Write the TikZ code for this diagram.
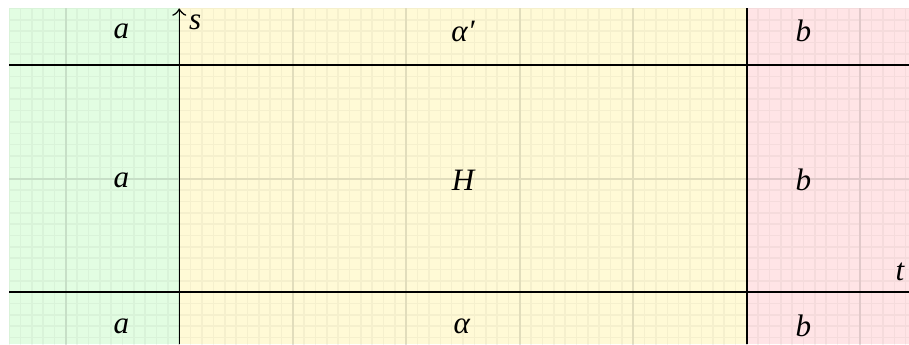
\documentclass[tikz,border=0pt]{standalone}
\usepackage{fontspec}
\setmainfont{Liberation Serif}
\definecolor{gfill}{RGB}{226,253,226}
\definecolor{yfill}{RGB}{255,250,214}
\definecolor{rfill}{RGB}{255,228,230}
\tikzset{
  lbl/.style={inner sep=0pt, font=\fontsize{7.8}{9}\selectfont\itshape},
  minorgrid/.style={draw=black, opacity=0.04, line width=0.4pt},
  majorgrid/.style={draw=black, opacity=0.08, line width=0.5pt},
  axisline/.style={draw=black, line width=0.4pt}
}
\begin{document}
\begin{tikzpicture}
\useasboundingbox (-1.58,-0.46) rectangle (6.43,2.575);
\fill[white] (-1.58,-0.46) rectangle (6.43,2.575);
\fill[gfill] (-1.5,-0.46) rectangle (0,2.5);
\fill[yfill] (0,-0.46) rectangle (5,2.5);
\fill[rfill] (5,-0.46) rectangle (6.43,2.5);
\begin{scope}
  \clip (-1.5,-0.46) rectangle (6.43,2.5);
  \draw[minorgrid, step=0.1] (-1.6,-0.6) grid (6.5,2.6);
  \draw[majorgrid, step=1] (-1.6,-0.6) grid (6.5,2.6);
\end{scope}
% region boundaries and axes
\coordinate (tl) at (-1.5,0);
\coordinate (tr) at (6.43,0);
\coordinate (ul) at (-1.5,2);
\coordinate (ur) at (6.43,2);
\coordinate (sb) at (0,-0.46);
\coordinate (st) at (0,2.5);
\coordinate (vb) at (5,-0.46);
\coordinate (vt) at (5,2.5);
\draw[axisline] (tl) -- (tr);
\draw[axisline] (ul) -- (ur);
\draw[axisline,->] (sb) -- (st);
\draw[axisline] (vb) -- (vt);
% labels
\node[lbl] (s) at (0.14,2.38) {s};
\node[lbl] (t) at (6.35,0.18) {t};
\node[lbl] (a1) at (-0.51,2.3) {a};
\node[lbl] (a2) at (-0.51,0.99) {a};
\node[lbl] (a3) at (-0.51,-0.3) {a};
\node[lbl] (al2) at (2.5,2.3) {α′};
\node[lbl] (H) at (2.5,0.99) {H};
\node[lbl] (al1) at (2.49,-0.3) {α};
\node[lbl] (b1) at (5.5,2.3) {b};
\node[lbl] (b2) at (5.5,0.99) {b};
\node[lbl] (b3) at (5.5,-0.3) {b};
\end{tikzpicture}
\end{document}
